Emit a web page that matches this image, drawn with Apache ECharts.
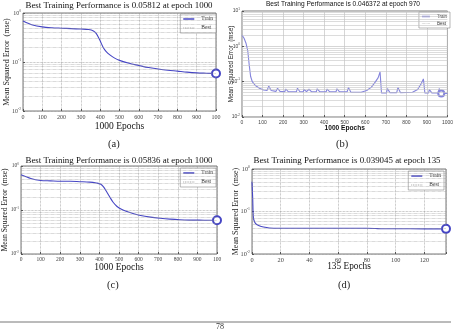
<!DOCTYPE html>
<html>
<head>
<meta charset="utf-8">
<script src="https://cdn.jsdelivr.net/npm/echarts@6/dist/echarts.min.js"></script>
<style>
  html, body { margin: 0; padding: 0; background: #fff; }
  #chart { width: 456px; height: 329px; }
</style>
</head>
<body>
<div id="chart"></div>
<script>
// panel (a)
const epochsA = [0, 50, 100, 150, 200, 250, 300, 340, 365, 380, 398, 415, 430, 450, 475, 500, 550, 600, 650, 700, 750, 800, 850, 900, 950, 1000];
const mseA = [0.69, 0.57, 0.52, 0.5, 0.49, 0.48, 0.47, 0.46, 0.43, 0.38, 0.28, 0.2, 0.165, 0.14, 0.12, 0.108, 0.094, 0.085, 0.077, 0.072, 0.068, 0.065, 0.062, 0.06, 0.059, 0.05812];
const bestA = [1000, 0.05812];
const xTicksA = ['0', '100', '200', '300', '400', '500', '600', '700', '800', '900', '100'];

// panel (b)
const epochsB = [0, 10, 20, 28, 35, 42, 50, 65, 85, 105, 122, 130, 142, 165, 173, 185, 208, 213, 225, 265, 270, 282, 298, 302, 314, 322, 326, 338, 362, 366, 378, 410, 414, 426, 458, 462, 474, 512, 518, 530, 580, 607, 630, 650, 663, 672, 679, 703, 708, 720, 753, 759, 771, 830, 855, 871, 883, 890, 908, 912, 924, 955, 960, 967, 970, 985, 1000];
const mseB = [2.1, 1.7, 1.2, 0.75, 0.3, 0.14, 0.1, 0.078, 0.065, 0.058, 0.056, 0.075, 0.056, 0.053, 0.065, 0.053, 0.052, 0.062, 0.052, 0.052, 0.065, 0.052, 0.052, 0.06, 0.052, 0.052, 0.061, 0.052, 0.052, 0.063, 0.052, 0.052, 0.062, 0.052, 0.052, 0.063, 0.052, 0.052, 0.068, 0.05, 0.05, 0.056, 0.07, 0.1, 0.13, 0.19, 0.048, 0.048, 0.064, 0.049, 0.049, 0.068, 0.049, 0.05, 0.06, 0.085, 0.12, 0.048, 0.048, 0.06, 0.048, 0.048, 0.064, 0.047, 0.046372, 0.0465, 0.0466];
const bestB = [970, 0.046372];
const xTicksB = ['0', '100', '200', '300', '400', '500', '600', '700', '800', '900', '1000'];

// panel (c)
const epochsC = [0, 50, 100, 150, 200, 250, 300, 350, 385, 405, 420, 437, 455, 470, 490, 510, 540, 575, 610, 660, 710, 760, 810, 860, 910, 960, 1000];
const mseC = [0.63, 0.52, 0.47, 0.46, 0.45, 0.45, 0.44, 0.43, 0.41, 0.39, 0.34, 0.26, 0.19, 0.15, 0.12, 0.105, 0.092, 0.082, 0.075, 0.069, 0.065, 0.062, 0.06, 0.059, 0.0588, 0.0586, 0.05836];
const bestC = [1000, 0.05836];
const xTicksC = ['0', '100', '200', '300', '400', '500', '600', '700', '800', '900', '100'];

// panel (d)
const epochsD = [0, 0.5, 1, 2, 3, 5, 8, 12, 20, 40, 60, 80, 86, 90, 100, 120, 135];
const mseD = [0.5, 0.2, 0.07, 0.055, 0.05, 0.046, 0.043, 0.041, 0.0405, 0.0405, 0.0405, 0.0403, 0.0398, 0.0393, 0.0392, 0.0391, 0.039045];
const bestD = [135, 0.039045];
const xTicksD = ['0', '20', '40', '60', '80', '100', '120'];

const titles = [
  'Best Training Performance is 0.05812 at epoch 1000',
  'Best Training Performance is 0.046372 at epoch 970',
  'Best Training Performance is 0.05836 at epoch 1000',
  'Best Training Performance is 0.039045 at epoch 135'
];
const xNames = ['1000 Epochs', '1000 Epochs', '1000 Epochs', '135 Epochs'];
const panelTags = ['(a)', '(b)', '(c)', '(d)'];

const SERIF = 'Liberation Serif';
const SANS = 'Liberation Sans';
const DOTS = 'path://M0 0h1v1H0zM2 0h1v1H2zM4 0h1v1H4zM6 0h1v1H6zM8 0h1v1H8zM10 0h1v1H10zM12 0h1v1H12z';

const panels = [
  { ep: epochsA, v: mseA, best: bestA, ticks: xTicksA, max: 1000, step: 100, ymin: 0.01, ymax: 1,
    box: { left: 23, top: 13, width: 193, height: 98 }, font: SERIF, color: '#4646c4',
    title: { x: 119, y: 1, size: 8.9 }, tag: { x: 108, y: 139 }, nameGap: 10, nameSize: 9.5, yName: 8, yGap: 12,
    legend: { right: 240, top: 14 }, tickSize: 6, grid: '#9a9a9a', sym: 8 },
  { ep: epochsB, v: mseB, best: bestB, ticks: xTicksB, max: 1000, step: 100, ymin: 0.01, ymax: 10,
    box: { left: 242, top: 11, width: 208, height: 106 }, font: SANS, color: '#8585dc',
    title: { x: 343, y: 1, size: 6.6 }, tag: { x: 336, y: 139 }, nameGap: 8, nameSize: 6.6, yName: 6.3, yGap: 8,
    legend: { right: 6, top: 12 }, tickSize: 5, grid: '#c4c4c4', sym: 6 },
  { ep: epochsC, v: mseC, best: bestC, ticks: xTicksC, max: 1000, step: 100, ymin: 0.01, ymax: 1,
    box: { left: 21, top: 166, width: 196, height: 88 }, font: SERIF, color: '#4646c4',
    title: { x: 119, y: 156, size: 8.9 }, tag: { x: 107, y: 280 }, nameGap: 8, nameSize: 9.5, yName: 7.6, yGap: 12,
    legend: { right: 240, top: 168 }, tickSize: 5.5, grid: '#9a9a9a', sym: 8 },
  { ep: epochsD, v: mseD, best: bestD, ticks: xTicksD, max: 135, step: 20, ymin: 0.01, ymax: 1,
    box: { left: 252, top: 169, width: 194, height: 85 }, font: SERIF, color: '#4646c4',
    title: { x: 347, y: 156, size: 8.9 }, tag: { x: 338, y: 280 }, nameGap: 8, nameSize: 9.3, yName: 8, yGap: 12,
    legend: { right: 12, top: 171 }, tickSize: 6.3, grid: '#9a9a9a', sym: 8 }
];

function minorValues(lo, hi) {
  const out = [];
  for (let d = lo; d < hi * 0.99; d *= 10) {
    for (let k = 2; k <= 9; k++) out.push({ yAxis: +(d * k).toPrecision(3) });
  }
  return out;
}

const option = {
  backgroundColor: '#fff',
  animation: false,
  title: [],
  legend: [],
  grid: [],
  xAxis: [],
  yAxis: [],
  series: [],
  graphic: [
    { type: 'line', shape: { x1: 0, y1: 322, x2: 451, y2: 322 }, style: { stroke: '#777', lineWidth: 1 } },
    { type: 'text', left: 216, top: 323, style: { text: '78', font: '8px ' + SERIF, fill: '#333' } }
  ]
};

panels.forEach((p, i) => {
  const gridCol = p.grid;
  const lineType = p.font === SANS ? 'solid' : 'dotted';
  option.title.push({
    text: titles[i], left: p.title.x, top: p.title.y, textAlign: 'center', padding: 0,
    textStyle: { fontFamily: p.font, fontSize: p.title.size, fontWeight: 'normal', color: '#111' }
  });
  option.title.push({
    text: panelTags[i], left: p.tag.x, top: p.tag.y, padding: 0,
    textStyle: { fontFamily: SERIF, fontSize: 10.5, fontWeight: 'normal', color: '#222' }
  });
  option.grid.push(Object.assign({ show: true, borderColor: '#555', borderWidth: 0.8, backgroundColor: '#fff' }, p.box));
  option.xAxis.push({
    type: 'value', gridIndex: i, min: 0, max: p.max, interval: p.step,
    name: xNames[i], nameLocation: 'middle', nameGap: p.nameGap, nameMoveOverlap: false,
    nameTextStyle: { fontFamily: p.font, fontSize: p.nameSize, color: '#111', fontWeight: p.font === SANS ? 'bold' : 'normal' },
    axisLine: { show: false },
    axisTick: { inside: true, length: 2, lineStyle: { color: '#555' } },
    axisLabel: {
      margin: 3, fontFamily: p.font, fontSize: p.tickSize, color: '#444',
      formatter: v => { const k = Math.round(v / p.step); return (k * p.step === v && p.ticks[k] !== undefined) ? p.ticks[k] : ''; }
    },
    splitLine: { show: true, lineStyle: { color: gridCol, type: lineType, width: 0.7 } }
  });
  option.yAxis.push({
    type: 'log', logBase: 10, gridIndex: i, min: p.ymin, max: p.ymax,
    name: 'Mean Squared Error  (mse)', nameLocation: 'middle', nameGap: p.yGap, nameMoveOverlap: false,
    nameTextStyle: { fontFamily: p.font, fontSize: p.yName, color: '#222' },
    axisLine: { show: false },
    axisTick: { inside: true, length: 2, lineStyle: { color: '#555' } },
    minorTick: { show: false },
    axisLabel: {
      margin: 2, color: '#444',
      formatter: v => '{m|10}{e|' + Math.round(Math.log10(v)) + '}',
      rich: {
        m: { fontFamily: p.font, fontSize: p.tickSize, color: '#444' },
        e: { fontFamily: p.font, fontSize: p.tickSize * 0.6, color: '#444', verticalAlign: 'top', lineHeight: p.tickSize * 1.4 }
      }
    },
    splitLine: { show: true, lineStyle: { color: gridCol, type: lineType, width: 0.7 } }
  });
  option.series.push({
    name: 'Train', type: 'line', xAxisIndex: i, yAxisIndex: i,
    data: p.ep.map((e, k) => [e, p.v[k]]),
    smooth: i === 1 ? false : 0.3, showSymbol: false, symbol: 'none',
    lineStyle: { color: p.color, width: 1.1 }, itemStyle: { color: p.color },
    markLine: {
      silent: true, symbol: 'none', label: { show: false },
      lineStyle: { color: gridCol, type: lineType, width: 0.6 },
      data: minorValues(p.ymin, p.ymax)
    },
    z: 3
  });
  option.series.push({
    name: 'Best', type: 'line', xAxisIndex: i, yAxisIndex: i,
    data: [p.best], symbol: 'emptyCircle', symbolSize: p.sym, showSymbol: true, clip: false,
    itemStyle: { color: p.color, borderWidth: 1.1 }, lineStyle: { color: '#999', type: 'dotted' }, z: 4
  });
  option.legend.push({
    right: p.legend.right, top: p.legend.top, orient: 'vertical',
    backgroundColor: '#fff', borderColor: '#888', borderWidth: 0.6,
    padding: [2, 3], itemGap: p.font === SANS ? 2 : 3, itemWidth: p.font === SANS ? 8 : 11, itemHeight: 1.5, selectedMode: false,
    textStyle: { fontFamily: p.font, fontSize: p.font === SANS ? 4.5 : 5.5, color: '#333', padding: [0, 0, 0, 2] },
    data: [
      { name: 'Train', icon: 'rect', itemStyle: { color: p.color } },
      { name: 'Best', icon: DOTS, itemStyle: { color: '#999' } }
    ]
  });
});

const chart = echarts.init(document.getElementById('chart'), null, { renderer: 'canvas' });
chart.setOption(option);
</script>
</body>
</html>
